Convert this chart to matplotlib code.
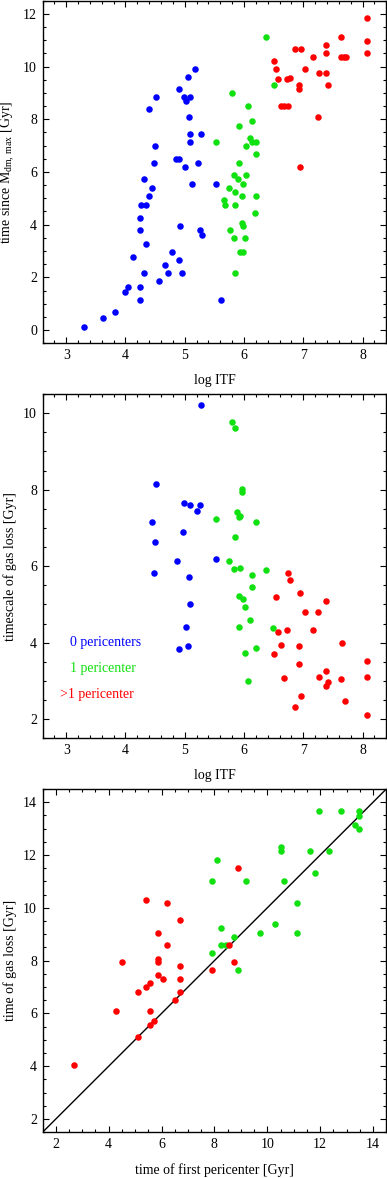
import matplotlib
matplotlib.use("Agg")
import matplotlib.pyplot as plt
from matplotlib.ticker import MultipleLocator

plt.rcParams['font.family'] = ['Liberation Serif', 'DejaVu Serif']
plt.rcParams['mathtext.fontset'] = 'custom'
plt.rcParams['mathtext.rm'] = 'Liberation Serif'
plt.rcParams['font.size'] = 10

BLUE = '#0000ff'
GREEN = '#11e011'
RED = '#ff0000'

# panel 1: time since M_dm,max vs log ITF
itf1_blue = [5.17, 5.05, 4.90, 4.52, 4.39, 4.98, 5.02, 5.09, 5.07, 5.09, 5.27, 5.09, 4.49, 4.48, 4.86, 4.90,
             5.00, 5.22, 4.31, 4.44, 5.13, 5.52, 4.40, 4.27, 4.35, 4.25, 4.24, 4.92, 5.26, 5.29, 4.34, 4.13,
             4.78, 4.90, 4.66, 4.32, 4.71, 4.95, 4.57, 4.05, 4.24, 4.00, 4.24, 5.61, 3.82, 3.62, 3.30]
tmax1_blue = [9.90, 9.60, 9.14, 8.83, 8.38, 8.83, 8.70, 8.83, 8.08, 7.45, 7.45, 7.12, 6.98, 6.35, 6.50, 6.50,
              6.18, 6.35, 5.74, 5.38, 5.55, 5.55, 5.08, 4.75, 4.75, 4.24, 3.80, 3.96, 3.80, 3.62, 3.27, 2.78,
              2.96, 2.66, 2.47, 2.16, 2.16, 2.16, 1.85, 1.65, 1.65, 1.46, 1.14, 1.14, 0.67, 0.47, 0.13]
itf1_green = [6.37, 6.50, 5.80, 6.07, 6.13, 5.92, 5.53, 6.10, 6.14, 6.21, 6.03, 6.20, 5.91, 5.83, 5.89, 6.03,
              5.98, 5.74, 5.84, 5.96, 6.20, 5.66, 5.68, 5.84, 6.19, 5.96, 5.98, 5.76, 5.83, 6.02, 5.94, 5.98, 5.85]
tmax1_green = [11.12, 9.30, 8.99, 8.52, 7.94, 7.74, 7.12, 7.30, 7.12, 7.12, 6.99, 6.68, 6.35, 5.87, 5.74, 5.87,
               5.55, 5.38, 5.23, 5.08, 5.08, 4.92, 4.75, 4.75, 4.43, 4.06, 3.96, 3.80, 3.51, 3.51, 2.96, 2.96, 2.16]
itf1_red = [8.08, 8.08, 8.07, 7.64, 7.64, 7.69, 7.72, 7.39, 7.39, 7.16, 6.86, 6.96, 6.50, 6.54, 6.58, 7.03,
            7.27, 7.39, 6.72, 6.77, 6.93, 6.93, 7.42, 6.62, 6.68, 6.74, 7.24, 6.95]
tmax1_red = [11.85, 10.96, 10.52, 11.12, 10.35, 10.35, 10.35, 10.81, 10.52, 10.35, 10.67, 10.67, 10.21, 9.90,
             9.51, 9.90, 9.76, 9.76, 9.51, 9.58, 9.30, 9.14, 9.30, 8.52, 8.52, 8.52, 8.08, 6.18]

# panel 2: timescale of gas loss vs log ITF
itf2_blue = [5.27, 4.52, 4.99, 5.09, 5.26, 5.21, 4.44, 4.97, 4.49, 4.87, 5.52, 4.48, 5.07, 5.09, 5.02, 4.90, 5.05]
tgas2_blue = [10.22, 8.16, 7.65, 7.61, 7.60, 7.44, 7.16, 6.88, 6.63, 6.14, 6.18, 5.81, 5.72, 5.01, 4.40, 3.83, 3.90]
itf2_green = [5.79, 5.84, 5.96, 5.97, 5.88, 5.92, 5.94, 5.53, 6.21, 5.85, 5.74, 5.83, 5.94, 6.37, 6.14, 6.13,
              5.92, 5.98, 6.02, 6.10, 5.91, 6.49, 6.02, 6.20, 6.07]
tgas2_green = [9.76, 9.61, 8.02, 7.93, 7.41, 7.29, 7.32, 7.24, 7.16, 6.77, 6.14, 5.92, 5.94, 5.90, 5.77, 5.45,
               5.23, 5.13, 4.93, 4.59, 4.40, 4.39, 3.73, 3.86, 2.99]
itf2_red = [6.75, 6.78, 6.95, 6.54, 7.39, 7.03, 7.24, 6.58, 6.72, 7.16, 7.65, 6.62, 6.93, 6.50, 6.93, 8.07,
            7.39, 6.68, 7.27, 8.08, 7.64, 7.42, 7.39, 6.96, 6.86, 7.71, 8.08]
tgas2_red = [5.81, 5.63, 5.30, 5.19, 5.09, 4.79, 4.79, 4.29, 4.33, 4.33, 4.00, 3.94, 3.92, 3.71, 3.43, 3.53,
             3.27, 3.08, 3.10, 3.09, 3.04, 2.96, 2.87, 2.60, 2.31, 2.48, 2.10]

# panel 3: time of gas loss vs time of first pericenter
tperi3_green = [11.95, 12.77, 13.45, 13.45, 13.31, 13.45, 10.52, 10.52, 11.62, 12.32, 8.08, 7.92, 9.21, 10.63,
                11.81, 11.13, 10.28, 9.71, 11.13, 8.26, 8.24, 8.42, 8.73, 7.92, 8.88]
tloss3_green = [13.66, 13.66, 13.66, 13.46, 13.13, 12.98, 12.32, 12.14, 12.14, 12.14, 11.82, 11.02, 11.02, 11.02,
                11.32, 10.18, 9.39, 9.06, 9.06, 9.23, 8.58, 8.58, 8.90, 8.28, 7.64]
tperi3_red = [8.88, 5.42, 6.19, 6.69, 5.87, 6.19, 8.57, 4.50, 5.87, 5.87, 8.73, 6.69, 7.92, 5.87, 6.06, 6.69,
              5.58, 5.42, 5.11, 6.69, 6.51, 4.28, 5.58, 5.72, 5.58, 5.11, 2.68]
tloss3_red = [11.51, 10.30, 10.18, 9.55, 9.06, 8.58, 8.58, 7.93, 8.08, 7.93, 7.93, 7.79, 7.64, 7.45, 7.31, 7.31,
              7.14, 7.01, 6.82, 6.82, 6.52, 6.08, 6.08, 5.72, 5.57, 5.12, 4.03]

legend_labels = ['0 pericenters', '1 pericenter', '>1 pericenter']

W, H = 387, 1178
fig = plt.figure(figsize=(W / 100, H / 100), dpi=100)


def make_ax(top, bottom, left=42.5, right=386.3):
    return fig.add_axes([left / W, 1 - bottom / H, (right - left) / W, (bottom - top) / H])


def style(ax, xmaj, xmin, ymaj, ymin):
    ax.xaxis.set_major_locator(MultipleLocator(xmaj))
    ax.xaxis.set_minor_locator(MultipleLocator(xmin))
    ax.yaxis.set_major_locator(MultipleLocator(ymaj))
    ax.yaxis.set_minor_locator(MultipleLocator(ymin))
    ax.tick_params(which='both', direction='in', top=True, right=True, width=0.8, labelsize=10)
    ax.tick_params(which='major', length=4.5, pad=4)
    ax.tick_params(which='minor', length=2.5)
    for s in ax.spines.values():
        s.set_linewidth(1.0)
    # put y-label centre at about 10 px from the left edge
    ax.yaxis.set_label_coords(-0.075, 0.5)


ms = 22

ax1 = make_ax(0.6, 343.3)
ax1.scatter(itf1_blue, tmax1_blue, s=ms, color=BLUE, lw=0, zorder=3)
ax1.scatter(itf1_green, tmax1_green, s=ms, color=GREEN, lw=0, zorder=3)
ax1.scatter(itf1_red, tmax1_red, s=ms, color=RED, lw=0, zorder=3)
ax1.set_xlim(2.6, 8.4)
ax1.set_ylim(-0.5, 12.5)
style(ax1, 1, 0.2, 2, 0.5)
ax1.set_xlabel('log ITF', labelpad=9)
ax1.set_ylabel(r'time since M$_{\mathrm{dm,\,max}}$ [Gyr]')

ax2 = make_ax(394, 738.3)
ax2.scatter(itf2_blue, tgas2_blue, s=ms, color=BLUE, lw=0, zorder=3)
ax2.scatter(itf2_green, tgas2_green, s=ms, color=GREEN, lw=0, zorder=3)
ax2.scatter(itf2_red, tgas2_red, s=ms, color=RED, lw=0, zorder=3)
ax2.set_xlim(2.6, 8.4)
ax2.set_ylim(1.5, 10.5)
style(ax2, 1, 0.2, 2, 0.5)
ax2.set_xlabel('log ITF', labelpad=9)
ax2.set_ylabel('timescale of gas loss [Gyr]')
ax2.text(3.06, 4.0, legend_labels[0], color=BLUE, va='center', ha='left', fontsize=10)
ax2.text(3.06, 3.32, legend_labels[1], color=GREEN, va='center', ha='left', fontsize=10)
ax2.text(2.90, 2.65, legend_labels[2], color=RED, va='center', ha='left', fontsize=10)

ax3 = make_ax(789, 1132.3)
ax3.plot([1.5, 14.5], [1.5, 14.5], color='black', lw=1.0, zorder=2)
ax3.scatter(tperi3_green, tloss3_green, s=ms, color=GREEN, lw=0, zorder=3)
ax3.scatter(tperi3_red, tloss3_red, s=ms, color=RED, lw=0, zorder=3)
ax3.set_xlim(1.5, 14.5)
ax3.set_ylim(1.5, 14.5)
style(ax3, 2, 0.5, 2, 0.5)
ax3.set_xlabel('time of first pericenter [Gyr]', labelpad=9)
ax3.set_ylabel('time of gas loss [Gyr]')

fig.savefig('out.png', dpi=100)
